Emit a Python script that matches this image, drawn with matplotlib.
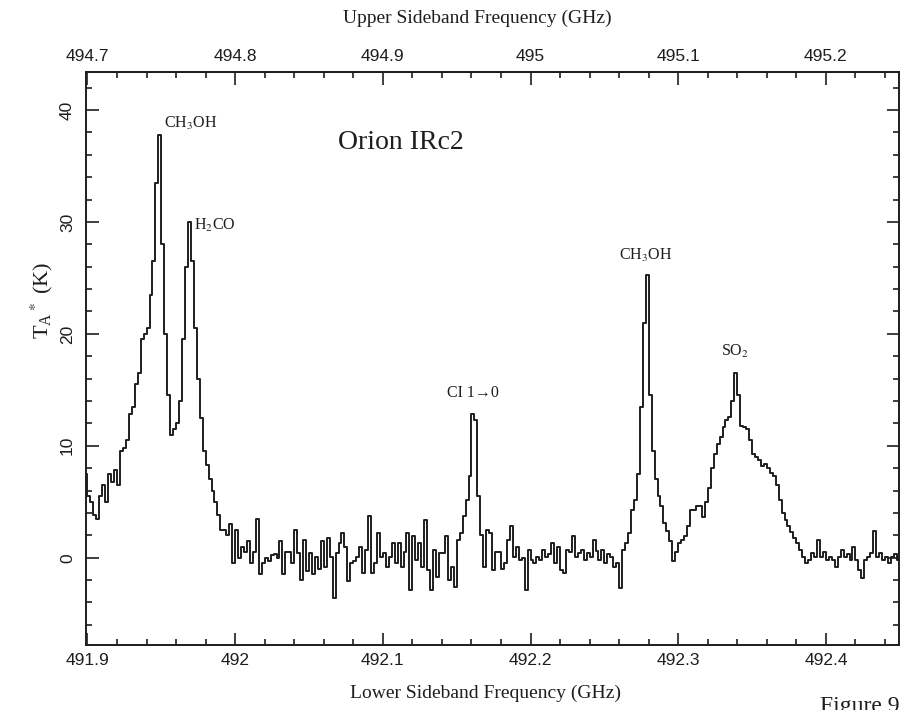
import numpy as np
import matplotlib
matplotlib.use("Agg")
import matplotlib.pyplot as plt
from matplotlib.ticker import MultipleLocator, FixedLocator, FuncFormatter

plt.rcParams["mathtext.fontset"] = "stix"

# spectrum, T_A* in K, one value per 2 MHz channel starting at 491.899 GHz (LSB)
lsb_start = 491.899
chan_width = 0.002
ta_k = [
    7.5, 5.5, 5.0, 3.8, 3.5, 5.5, 6.5, 5.0, 7.5, 6.8,
    7.8, 6.5, 9.5, 9.8, 10.5, 12.8, 13.5, 15.5, 16.5, 19.5,
    20.0, 20.5, 23.5, 26.5, 33.5, 37.8, 28.0, 20.0, 14.5, 11.0,
    11.5, 12.0, 14.0, 19.5, 26.0, 30.0, 26.5, 20.5, 16.0, 12.5,
    9.5, 8.3, 7.0, 6.0, 5.0, 3.8, 2.5, 2.5, 2.0, 3.0,
    -0.5, 2.5, 0.0, 1.0, 0.5, 1.5, -0.5, 0.5, 3.5, -1.5,
    -0.5, 0.0, -0.3, 0.2, 0.3, 0.0, 1.5, -1.5, 0.5, 0.5,
    -0.5, 2.5, 0.4, -2.0, 1.6, -1.2, 0.4, -1.5, 0.1, -1.0,
    1.5, -0.8, 1.8, 0.1, -3.6, 0.4, 1.3, 2.2, 1.0, -2.1,
    -0.5, -0.3, 0.1, 1.0, -1.4, 0.7, 3.7, -1.4, -0.5, 2.2,
    0.1, 0.4, -0.8, 0.1, 1.3, -0.5, 1.3, -0.8, 0.5, 2.2,
    -2.9, 1.9, -0.2, 1.3, -0.8, 3.4, -1.1, -2.9, 0.7, -1.7,
    0.4, 0.4, 1.9, -2.0, -0.8, -2.6, 1.6, 2.2, 3.7, 5.2,
    7.3, 12.8, 12.3, 5.5, 2.0, -0.8, 2.5, 2.2, -1.1, 0.5,
    0.5, -1.0, -0.5, 1.6, 2.8, 0.1, 1.0, -0.2, 0.0, -2.9,
    0.7, -0.2, -0.5, 0.1, -0.2, 0.7, 0.1, 0.3, 1.3, -0.5,
    1.0, -1.1, -1.4, 0.7, 0.5, 1.9, 0.1, 0.4, 0.7, -0.2,
    0.4, 0.1, 1.6, 0.6, -0.2, 0.7, -0.5, 0.3, 0.1, -0.8,
    -0.5, -2.7, 0.7, 1.3, 2.2, 4.3, 5.2, 7.5, 13.5, 21.0,
    25.3, 14.5, 9.5, 7.0, 5.5, 4.6, 3.1, 2.4, 1.5, -0.3,
    0.5, 1.3, 1.6, 1.9, 2.8, 4.3, 4.3, 4.6, 4.6, 3.6,
    5.0, 6.2, 8.0, 9.3, 10.2, 10.8, 11.7, 12.3, 12.6, 14.0,
    16.5, 14.5, 11.8, 11.7, 11.5, 10.5, 9.3, 9.0, 8.75, 8.2,
    8.4, 8.0, 7.6, 7.3, 6.5, 5.2, 4.0, 3.4, 2.8, 2.3,
    1.8, 1.3, 0.7, 0.1, -0.5, -0.2, 0.4, 0.1, 1.6, 0.1,
    0.5, -0.2, 0.1, -0.2, -0.8, 0.1, 0.7, 0.1, 0.3, -0.2,
    1.0, -0.2, -1.1, -1.8, -0.2, 0.1, 0.4, 2.4, 0.1, 0.4,
    -0.2, 0.1, -0.5, 0.1, 0.3, -0.2, 0.1,
]
usb_offset = 2.8  # GHz, upper sideband = lower + offset
usb_ticks = [494.7, 494.8, 494.9, 495.0, 495.1, 495.2]

line_names = ["CH$_3$OH", "H$_2$CO", "CI 1\u21920", "CH$_3$OH", "SO$_2$"]
line_freqs = [491.970, 491.9865, 492.1608, 492.2777, 492.3385]
source_name = "Orion IRc2"

freq = lsb_start + chan_width * np.arange(len(ta_k))

ink = "#1e1e1e"
serif = ["Liberation Serif", "DejaVu Serif"]
sans = ["Liberation Sans", "DejaVu Sans"]

fig = plt.figure(figsize=(9.01, 7.10), dpi=100)
ax = fig.add_axes([86 / 901, 1 - 645 / 710, 813 / 901, 573 / 710])

ax.plot(freq, ta_k, drawstyle="steps-mid", color=ink, lw=1.4)

ax.set_xlim(491.899, 492.4495)
ax.set_ylim(-7.8, 43.4)

ax.xaxis.set_major_locator(MultipleLocator(0.1))
ax.xaxis.set_minor_locator(MultipleLocator(0.02))
ax.yaxis.set_major_locator(MultipleLocator(10))
ax.yaxis.set_minor_locator(MultipleLocator(2))
fmt = FuncFormatter(lambda v, p: "%g" % round(v, 3))
ax.xaxis.set_major_formatter(fmt)
ax.yaxis.set_major_formatter(fmt)

ax.tick_params(which="both", direction="in", top=False, right=True,
               colors=ink, width=1.2)
ax.tick_params(which="major", length=9, labelsize=12.5, pad=6)
ax.tick_params(which="minor", length=4.5)
for lab in ax.get_xticklabels() + ax.get_yticklabels():
    lab.set_family(sans)
for lab in ax.get_yticklabels():
    lab.set_rotation(90)
    lab.set_va("center")
ax.tick_params(axis="y", pad=8)

for s in ax.spines.values():
    s.set_color(ink)
    s.set_linewidth(1.4)

top = ax.secondary_xaxis("top", functions=(lambda x: x + usb_offset,
                                           lambda x: x - usb_offset))
top.xaxis.set_major_locator(FixedLocator(usb_ticks))
top.xaxis.set_minor_locator(MultipleLocator(0.02))
top.xaxis.set_major_formatter(fmt)
top.tick_params(which="both", direction="in", colors=ink, width=1.2)
top.tick_params(which="major", length=9, labelsize=12.5, pad=6)
top.tick_params(which="minor", length=4.5)
for lab in top.get_xticklabels():
    lab.set_family(sans)
top.spines["top"].set_color(ink)
top.spines["top"].set_linewidth(1.4)

# line labels
label_y = [38.8, 29.7, 14.7, 27.0, 18.4]
for name, f, yl in zip(line_names, line_freqs, label_y):
    ax.text(f, yl, name, ha="center", va="center", fontsize=11.5,
            family=serif, color=ink)
ax.text(492.112, 37.1, source_name, ha="center", va="center", fontsize=20,
        family=serif, color=ink)

fig.text(477 / 901, 1 - 18 / 710, "Upper Sideband Frequency (GHz)",
         ha="center", va="center", fontsize=14, family=serif, color=ink)
fig.text(485 / 901, 1 - 693 / 710, "Lower Sideband Frequency (GHz)",
         ha="center", va="center", fontsize=14, family=serif, color=ink)
fig.text(42 / 901, 1 - 300 / 710, "T$_\\mathregular{A}$$^*$ (K)", rotation=90,
         ha="center", va="center", fontsize=16, family=serif, color=ink)
fig.text(820 / 901, 1 - 696 / 710, "Figure 9", ha="left", va="top",
         fontsize=17, family=serif, color=ink)

fig.savefig("out.png", dpi=100)
